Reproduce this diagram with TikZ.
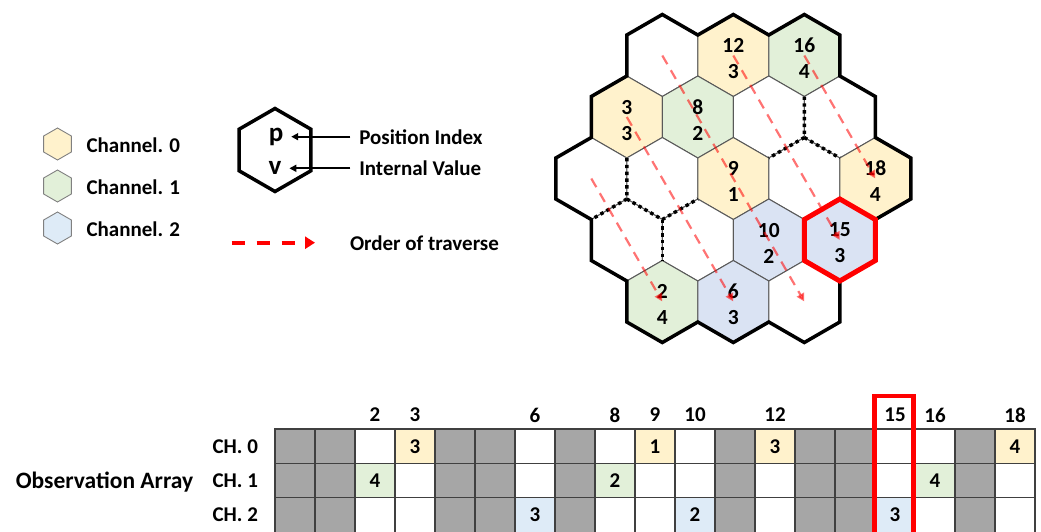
\documentclass[tikz,border=0pt]{standalone}
\usepackage{fontspec}
\setmainfont{Carlito}
\usetikzlibrary{shapes.geometric,arrows.meta,calc}

\definecolor{chA}{HTML}{FFF2CC}
\definecolor{chB}{HTML}{E2F0D9}
\definecolor{chC}{HTML}{DAE3F3}
\definecolor{arr0}{HTML}{FFF2CC}
\definecolor{arr1}{HTML}{E2F0D9}
\definecolor{arr2}{HTML}{DEEBF7}
\definecolor{cellgray}{HTML}{A6A6A6}
\definecolor{edgegray}{HTML}{595959}
\definecolor{gridline}{HTML}{404040}

\begin{document}
\begin{tikzpicture}[x=1pt,y=-1pt,
  every node/.style={inner sep=0pt,outer sep=0pt,text depth=0pt,
    font=\bfseries\fontsize{21}{26}\selectfont},
  hexcell/.style={regular polygon,regular polygon sides=6,shape border rotate=30,
    minimum size=82pt,draw=edgegray,line width=1pt},
  hexnum/.style={align=center,font=\bfseries\fontsize{21.5}{26}\selectfont},
  rim/.style={line width=3.5pt,line join=miter},
  emptyedge/.style={line width=3.4pt,dash pattern=on 3.4pt off 3.4pt},
  ring/.style={red,line width=5pt,line join=miter},
  trav/.style={red,opacity=0.55,line width=2.2pt,dash pattern=on 10pt off 7pt,
    -{Triangle[length=8pt,width=8pt]}},
  leghex/.style={regular polygon,regular polygon sides=6,shape border rotate=30,
    minimum size=32pt,draw=gray,line width=0.9pt},
  keyhex/.style={regular polygon,regular polygon sides=6,shape border rotate=30,
    minimum size=83pt,draw=black,line width=3.5pt},
  keyletter/.style={font=\bfseries\fontsize{27}{30}\selectfont},
  keyarrow/.style={black,line width=2pt,-{Triangle[length=7pt,width=7pt]}},
  legarrow/.style={red,line width=4pt,dash pattern=on 13.3pt off 11.7pt,
    -{Triangle[length=10pt,width=12pt]}},
  acell/.style={rectangle,minimum width=40pt,minimum height=34.4pt,
    draw=gridline,line width=1.1pt},
  hlbox/.style={red,line width=4.5pt},
]
\useasboundingbox (0,0) rectangle (1041,531);

% ---------- hexagonal board: 19 cells, indexed along the down-right diagonals
\foreach \i/\px/\py/\f in {
    7/662.3/55.5/white, 12/733.3/55.5/chA, 16/804.3/55.5/chB,
    3/626.8/117/chA, 8/697.8/117/chB, 13/768.8/117/white, 17/839.8/117/white,
    0/591.3/178.5/white, 4/662.3/178.5/white, 9/733.3/178.5/chA,
    14/804.3/178.5/white, 18/875.3/178.5/chA,
    1/626.8/240/white, 5/697.8/240/white, 10/768.8/240/chC, 15/839.8/240/chC,
    2/662.3/301.5/chB, 6/733.3/301.5/chC, 11/804.3/301.5/white}
  \node[hexcell,fill=\f] (p\i) at (\px,\py) {};

% corner points of every cell
\foreach \i in {0,...,18}{
  \coordinate (p\i-T)  at ($(p\i.center)+(0,-41)$);
  \coordinate (p\i-UR) at ($(p\i.center)+(35.5,-20.5)$);
  \coordinate (p\i-LR) at ($(p\i.center)+(35.5,20.5)$);
  \coordinate (p\i-B)  at ($(p\i.center)+(0,41)$);
  \coordinate (p\i-LL) at ($(p\i.center)+(-35.5,20.5)$);
  \coordinate (p\i-UL) at ($(p\i.center)+(-35.5,-20.5)$);
}

% position index over internal value
\foreach \i/\v in {12/3,16/4,3/3,8/2,9/1,18/4,10/2,15/3,2/4,6/3}
  \node[hexnum] (t\i) at ($(p\i.center)+(0,3)$) {\i\\\v};

% borders shared by two empty cells
\draw[emptyedge] (p13-UR) -- (p13-LR) -- (p13-B);
\draw[emptyedge] (p17-LL) -- (p17-B);
\draw[emptyedge] (p0-UR) -- (p0-LR) -- (p0-B);
\draw[emptyedge] (p4-LL) -- (p4-B) -- (p4-LR);
\draw[emptyedge] (p1-UR) -- (p1-LR);

% outer rim of the board
\draw[rim] (p7-UL) -- (p7-T) -- (p7-UR) -- (p12-T) -- (p12-UR) -- (p16-T)
  -- (p16-UR) -- (p16-LR) -- (p17-UR) -- (p17-LR) -- (p18-UR) -- (p18-LR)
  -- (p18-B) -- (p15-LR) -- (p15-B) -- (p11-LR) -- (p11-B) -- (p11-LL)
  -- (p6-B) -- (p6-LL) -- (p2-B) -- (p2-LL) -- (p2-UL) -- (p1-LL) -- (p1-UL)
  -- (p0-LL) -- (p0-UL) -- (p0-T) -- (p3-UL) -- (p3-T) -- (p7-LL) -- cycle;

% highlighted cell
\draw[ring] (p15-T) -- (p15-UR) -- (p15-LR) -- (p15-B) -- (p15-LL) -- (p15-UL) -- cycle;

% traversal order along the diagonals
\draw[trav] (p0.center) -- (p2.center);
\draw[trav] (p3.center) -- (p6.center);
\draw[trav] (p7.center) -- (p11.center);
\draw[trav] (p12.center) -- (p15.center);
\draw[trav] (p16.center) -- (p18.center);

% ---------- legend
\node[leghex,fill=chA]  (lg0) at (57.5,144) {};
\node[leghex,fill=chB]  (lg1) at (57.5,186) {};
\node[leghex,fill=arr2] (lg2) at (57.5,228) {};
\node[anchor=west] (lt0) at (86.5,145) {Channel. 0};
\node[anchor=west] (lt1) at (86.5,187) {Channel. 1};
\node[anchor=west] (lt2) at (86.5,229) {Channel. 2};

\node[keyhex] (key) at (275,150) {};
\node[keyletter] (kp) at (276,134.5) {p};
\node[keyletter] (kv) at (275,168.3) {v};
\node[anchor=west] (lpi) at (359.3,136.7) {Position Index};
\node[anchor=west] (liv) at (359.3,168.3) {Internal Value};
\draw[keyarrow,shorten <=9pt,shorten >=8pt] (lpi.west) -- (lpi.west -| kp.east);
\draw[keyarrow,shorten <=9pt,shorten >=8pt] (liv.west) -- (liv.west -| kv.east);

\coordinate (ot0) at (231.7,242.7);
\coordinate (ot1) at (315,242.7);
\draw[legarrow] (ot0) -- (ot1);
\node[anchor=west] (lot) at (350,242.7) {Order of traverse};

% ---------- observation array (one column per position, one row per channel)
\foreach \c/\g/\rr/\v in {0/1/9/0, 1/1/9/0, 2/0/1/4, 3/0/0/3, 4/1/9/0,
    5/1/9/0, 6/0/2/3, 7/1/9/0, 8/0/1/2, 9/0/0/1, 10/0/2/2, 11/1/9/0,
    12/0/0/3, 13/1/9/0, 14/1/9/0, 15/0/2/3, 16/0/1/4, 17/1/9/0, 18/0/0/4}{
  \foreach \r in {0,1,2}{
    \ifnum\g=1\relax \def\cf{cellgray}\def\ct{}%
    \else\ifnum\r=\rr\relax \edef\cf{arr\r}\edef\ct{\v}%
    \else \def\cf{white}\def\ct{}\fi\fi
    \node[acell,fill=\cf] (a\r-\c) at ({295+40*\c},{446.2+34.4*\r}) {\ct};
  }
}
\foreach \c in {2,3,6,8,9,10,12,15,16,18}
  \node (n\c) at ({295+40*\c},415) {\c};
\foreach \r in {0,1,2}
  \node[anchor=east] (chl\r) at ($(a\r-0.west)+(-17,0)$) {CH. \r};
\node[font=\bfseries\fontsize{23.5}{28}\selectfont] (obs) at (104.5,480.5) {Observation Array};

\coordinate (hlA) at (874.5,396);
\coordinate (hlB) at (913.5,545);
\draw[hlbox] (hlA) rectangle (hlB);
\end{tikzpicture}
\end{document}
